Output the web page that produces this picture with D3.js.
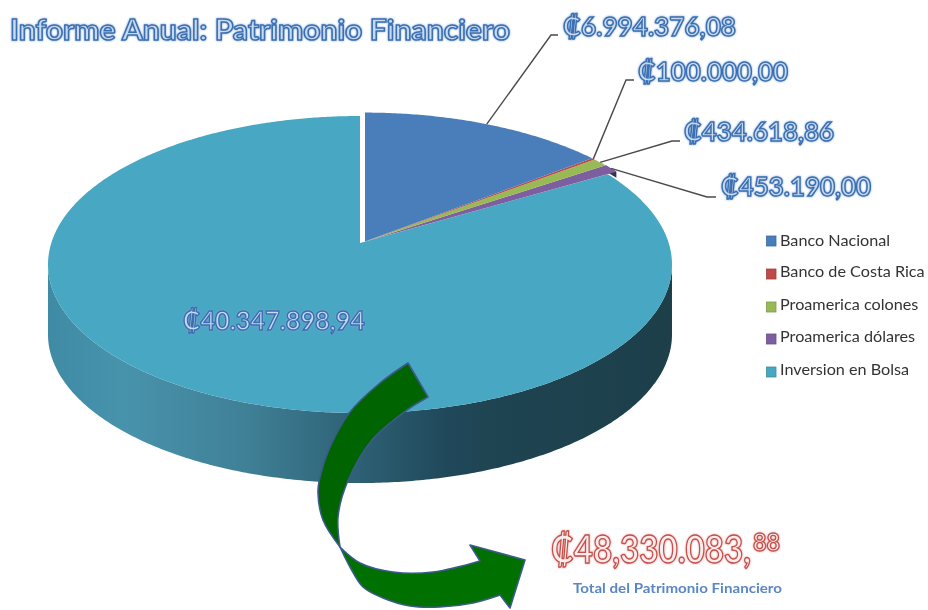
<!DOCTYPE html>
<html><head><meta charset="utf-8">
<script src="https://cdnjs.cloudflare.com/ajax/libs/d3/7.8.5/d3.min.js"></script>
<style>
html,body{margin:0;padding:0;background:#fff;overflow:hidden}
svg{display:block}
text{font-family:Lato,"Open Sans",sans-serif}
.outline{font-weight:700;fill:#c9d9ee;stroke:#3a6fb2;stroke-width:1.5px;filter:drop-shadow(0 0 1.2px #7fa5d6) blur(.5px)}
.outline.red{fill:#fbeeed;stroke:#c64f4b;stroke-width:1.3px;filter:drop-shadow(0 0 1px #e5a09e) blur(.45px)}
</style></head><body>
<svg id="c" width="928" height="610"></svg>
<script>
// Data
const categories=["Banco Nacional","Banco de Costa Rica","Proamerica colones","Proamerica dólares","Inversion en Bolsa"];
const values=[6994376.08,100000.00,434618.86,453190.00,40347898.94];
const valueLabels=["₡6.994.376,08","₡100.000,00","₡434.618,86","₡453.190,00","₡40.347.898,94"];
const colors=["#4a7ebb","#be4b48","#98b954","#7d5fa0","#48a7c3"];
const titleText="Informe Anual: Patrimonio Financiero";
const totalText="₡48,330.083,";
const totalCents="88";
const totalCaption="Total del Patrimonio Financiero";

// Layout
const labelBox=[[563,36,173],[638,81,150],[684,141,150],[721,196,150],[183,330,182]];
const elbow=[[551,35,558],[626,80,634],[672,141,680],[707,197,716]];
const legendText=[241,272,305,337,370], legendBox=[241,274,307,339,372];

const svg=d3.select("#c");
const defs=svg.append("defs");
const wg=defs.append("linearGradient").attr("id","wall").attr("gradientUnits","userSpaceOnUse")
 .attr("x1",48).attr("x2",672).attr("y1",0).attr("y2",0);
[[0,"#3f8aa4"],[.12,"#4893ac"],[.32,"#3f8096"],[.5,"#2d6074"],[.64,"#20485a"],[.72,"#1f4451"],[1,"#1c3f4a"]]
 .forEach(s=>wg.append("stop").attr("offset",s[0]).attr("stop-color",s[1]));

// Perspective projection of the pie disc
const k=.1448,X=308.7,R=145.4;
function proj(a,o){ // a: clockwise from top
  const u=Math.sin(a),v=-Math.cos(a),w=1-k*v;
  return [o.x+o.s*X*u/w,o.y+o.s*R*v/w];
}
const teal={x:360,y:243,s:1}, rest={x:365,y:241.5,s:1.015};
const color=d3.scaleOrdinal(categories,colors);
const arcs=d3.pie().sort(null).value(d=>d)(values);
const line=d3.line();
function sweep(a0,a1,o){
  const n=Math.max(2,Math.ceil(Math.abs(a1-a0)/.01));
  return d3.range(n+1).map(i=>proj(a0+(a1-a0)*i/n,o));
}
function slice(d,o){return line([[o.x,o.y],...sweep(d.startAngle,d.endAngle,o)])+"Z";}

// Wall of the big slice
const depth=70;
const front=sweep(arcs[4].startAngle,Math.PI*2,teal);
const iR=d3.greatestIndex(front,p=>p[0]), iL=d3.leastIndex(front,p=>p[0]);
const edge=front.slice(iR,iL+1);
svg.append("path").attr("d",line([...edge,...edge.slice().reverse().map(p=>[p[0],p[1]+depth])])+"Z")
 .attr("fill","url(#wall)");

// Small wall at the tip of the purple slice
const tip=arcs[3], tipEdge=sweep(tip.startAngle,tip.endAngle,rest);
const tipA=tipEdge[tipEdge.length-1];
svg.append("path").attr("d",line([tipEdge[0],tipA,[tipA[0],tipA[1]+6],[tipEdge[0][0],tipEdge[0][1]+6]])+"Z").attr("fill","#3b2d52");

// Top faces
svg.append("path").attr("d",slice(arcs[4],teal)).attr("fill",color(categories[4]));
[3,2,1,0].forEach(i=>svg.append("path").attr("d",slice(arcs[i],rest)).attr("fill",color(categories[i])));

// Leader lines
[0,1,2,3].forEach(i=>{
  const m=(arcs[i].startAngle+arcs[i].endAngle)/2,p=proj(m,rest),e=elbow[i];
  svg.append("path").attr("d",line([p,[e[0],e[1]],[e[2],e[1]]])).attr("fill","none").attr("stroke","#4a4a4a").attr("stroke-width",1.4);
});

// Data labels
valueLabels.forEach((t,i)=>{
  const b=labelBox[i];
  svg.append("text").attr("class","outline").attr("x",b[0]).attr("y",b[1])
   .attr("font-size",27).attr("textLength",b[2]).attr("lengthAdjust","spacingAndGlyphs").text(t);
});

// Title
svg.append("text").attr("class","outline").attr("x",10).attr("y",40).attr("font-size",29)
 .attr("textLength",500).attr("lengthAdjust","spacingAndGlyphs").text(titleText);

// Legend
categories.forEach((c,i)=>{
  svg.append("rect").attr("x",766.5).attr("y",legendBox[i]-5).attr("width",9.5).attr("height",10)
   .attr("fill",color(c)).attr("stroke",d3.color(color(c)).darker(.5)).attr("stroke-width",.8);
  svg.append("text").attr("x",780).attr("y",legendText[i]+5).attr("font-size",16.2).attr("fill","#333")
   .style("filter","blur(.35px)").text(c);
});

// Arrow
const curve=d3.line().curve(d3.curveCatmullRom.alpha(.5));
const upper=[[408,363],[380,383],[350,412],[330,447],[320,477],[318,493],[323,520],[340,547]];
const upperIn=[[340,547],[338,517],[347,483],[372,440],[407,410],[428,397]];
const lowerOut=[[340,547],[350,567],[363,587],[383,598],[410,606],[440,607],[473,603],[500,595]];
const lowerIn=[[480,561],[433,572],[393,572],[360,563],[340,547]];
const lowerHead=[[500,595],[510,608],[525,560],[470,545],[480,561]];
svg.append("path").attr("d",curve(upper)+curve(upperIn).replace(/^M/,"L")+"Z")
 .attr("fill","#006400").attr("stroke","#3c5a8a").attr("stroke-width",1.6).attr("stroke-linejoin","round");
svg.append("path").attr("d",curve(lowerOut)+line(lowerHead).replace(/^M/,"L")+curve(lowerIn).replace(/^M/,"L")+"Z")
 .attr("fill","#007000").attr("stroke","#3c5a8a").attr("stroke-width",1.6).attr("stroke-linejoin","round");

// Total: squeezed by a transform so the two pieces sit side by side without overlapping boxes
function fitted(txt,x,y,size,width){
  const t=svg.append("text").attr("class","outline red").attr("font-size",size).text(txt);
  const sx=width/t.node().getComputedTextLength();
  t.attr("transform",`translate(${x},${y}) scale(${sx},1)`).style("stroke-width",(1.3/Math.sqrt(sx))+"px");
}
fitted(totalText,551,563,38,200);
fitted(totalCents,753,551,24,27);
svg.append("text").attr("x",573).attr("y",593).attr("font-size",14).attr("font-weight",700).attr("fill","#5a86c4")
 .attr("textLength",209).attr("lengthAdjust","spacingAndGlyphs").style("filter","blur(.3px)").text(totalCaption);
</script>
</body></html>
